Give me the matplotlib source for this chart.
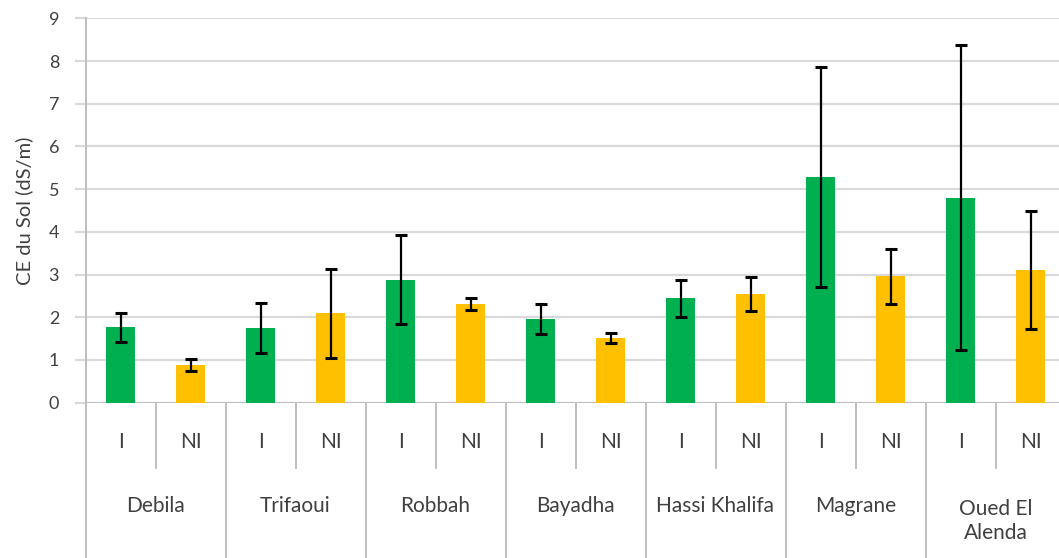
import matplotlib
matplotlib.use("Agg")
import matplotlib.pyplot as plt
from matplotlib.transforms import blended_transform_factory
from matplotlib.lines import Line2D

plt.rcParams['font.family'] = ['Lato', 'DejaVu Sans']

sites = ["Debila", "Trifaoui", "Robbah", "Bayadha", "Hassi Khalifa", "Magrane", "Oued El\nAlenda"]
treatments = ["I", "NI"]
ce_irrigated = [1.77, 1.75, 2.88, 1.96, 2.44, 5.29, 4.80]
err_irrigated = [0.34, 0.58, 1.04, 0.36, 0.43, 2.57, 3.57]
ce_non_irrigated = [0.89, 2.09, 2.31, 1.52, 2.55, 2.96, 3.10]
err_non_irrigated = [0.14, 1.05, 0.13, 0.12, 0.40, 0.64, 1.38]

green = "#00B050"
yellow = "#FFC000"
grid_c = "#D9D9D9"
sep_c = "#BFBFBF"
text_c = "#404040"

W, H = 1059, 558
fig = plt.figure(figsize=(W / 100, H / 100), dpi=100)
x0, x1 = 85.5, 1065.5
ytop, ybot = 18.3, 402.7
ax = fig.add_axes([x0 / W, 1 - ybot / H, (x1 - x0) / W, (ybot - ytop) / H])

n = len(sites)
vals, errs, cols, labels = [], [], [], []
for i in range(n):
    vals += [ce_irrigated[i], ce_non_irrigated[i]]
    errs += [err_irrigated[i], err_non_irrigated[i]]
    cols += [green, yellow]
    labels += treatments
xs = list(range(2 * n))

ax.bar(xs, vals, width=0.41, color=cols, zorder=3)
ax.errorbar(xs, vals, yerr=errs, fmt='none', ecolor='black', elinewidth=1.6,
            capsize=4, capthick=2.2, zorder=4)

ax.set_xlim(-0.5, 2 * n - 0.5)
ax.set_ylim(0, 9)
ax.set_yticks(range(10))
ax.yaxis.grid(True, color=grid_c, linewidth=1.6, zorder=0)
ax.set_axisbelow(True)
for s in ["top", "right", "bottom"]:
    ax.spines[s].set_visible(False)
ax.spines["left"].set_color(sep_c)
ax.spines["left"].set_linewidth(1.4)
ax.tick_params(axis='y', length=8, width=1.6, color=grid_c, pad=11,
               labelsize=13, labelcolor=text_c)
ax.tick_params(axis='x', bottom=False, labelbottom=False)
ax.set_ylabel("CE du Sol (dS/m)", fontsize=14.5, color=text_c)
ax.yaxis.set_label_coords((33 - x0) / (x1 - x0), 0.5)

# axis baseline
ax.axhline(0, color=sep_c, linewidth=1.4, zorder=2)

# two-level category axis below the plot
tr = blended_transform_factory(ax.transData, fig.transFigure)
def fy(py):
    return 1 - py / H

for k in range(n + 1):
    xb = 2 * k - 0.5
    fig.add_artist(Line2D([xb, xb], [fy(ybot), fy(H)], transform=tr,
                          color=sep_c, linewidth=1.4))
for k in range(n):
    xm = 2 * k + 0.5
    fig.add_artist(Line2D([xm, xm], [fy(ybot), fy(468)], transform=tr,
                          color=sep_c, linewidth=1.4))

for x, lab in zip(xs, labels):
    fig.text(x, fy(442), lab, transform=tr, ha='center', va='center',
             fontsize=15, color=text_c)
for k, site in enumerate(sites):
    fig.text(2 * k + 0.5, fy(506) if "\n" not in site else fy(521), site,
             transform=tr, ha='center', va='center', fontsize=15,
             color=text_c, linespacing=1.3)

fig.savefig("out.png", dpi=100)
